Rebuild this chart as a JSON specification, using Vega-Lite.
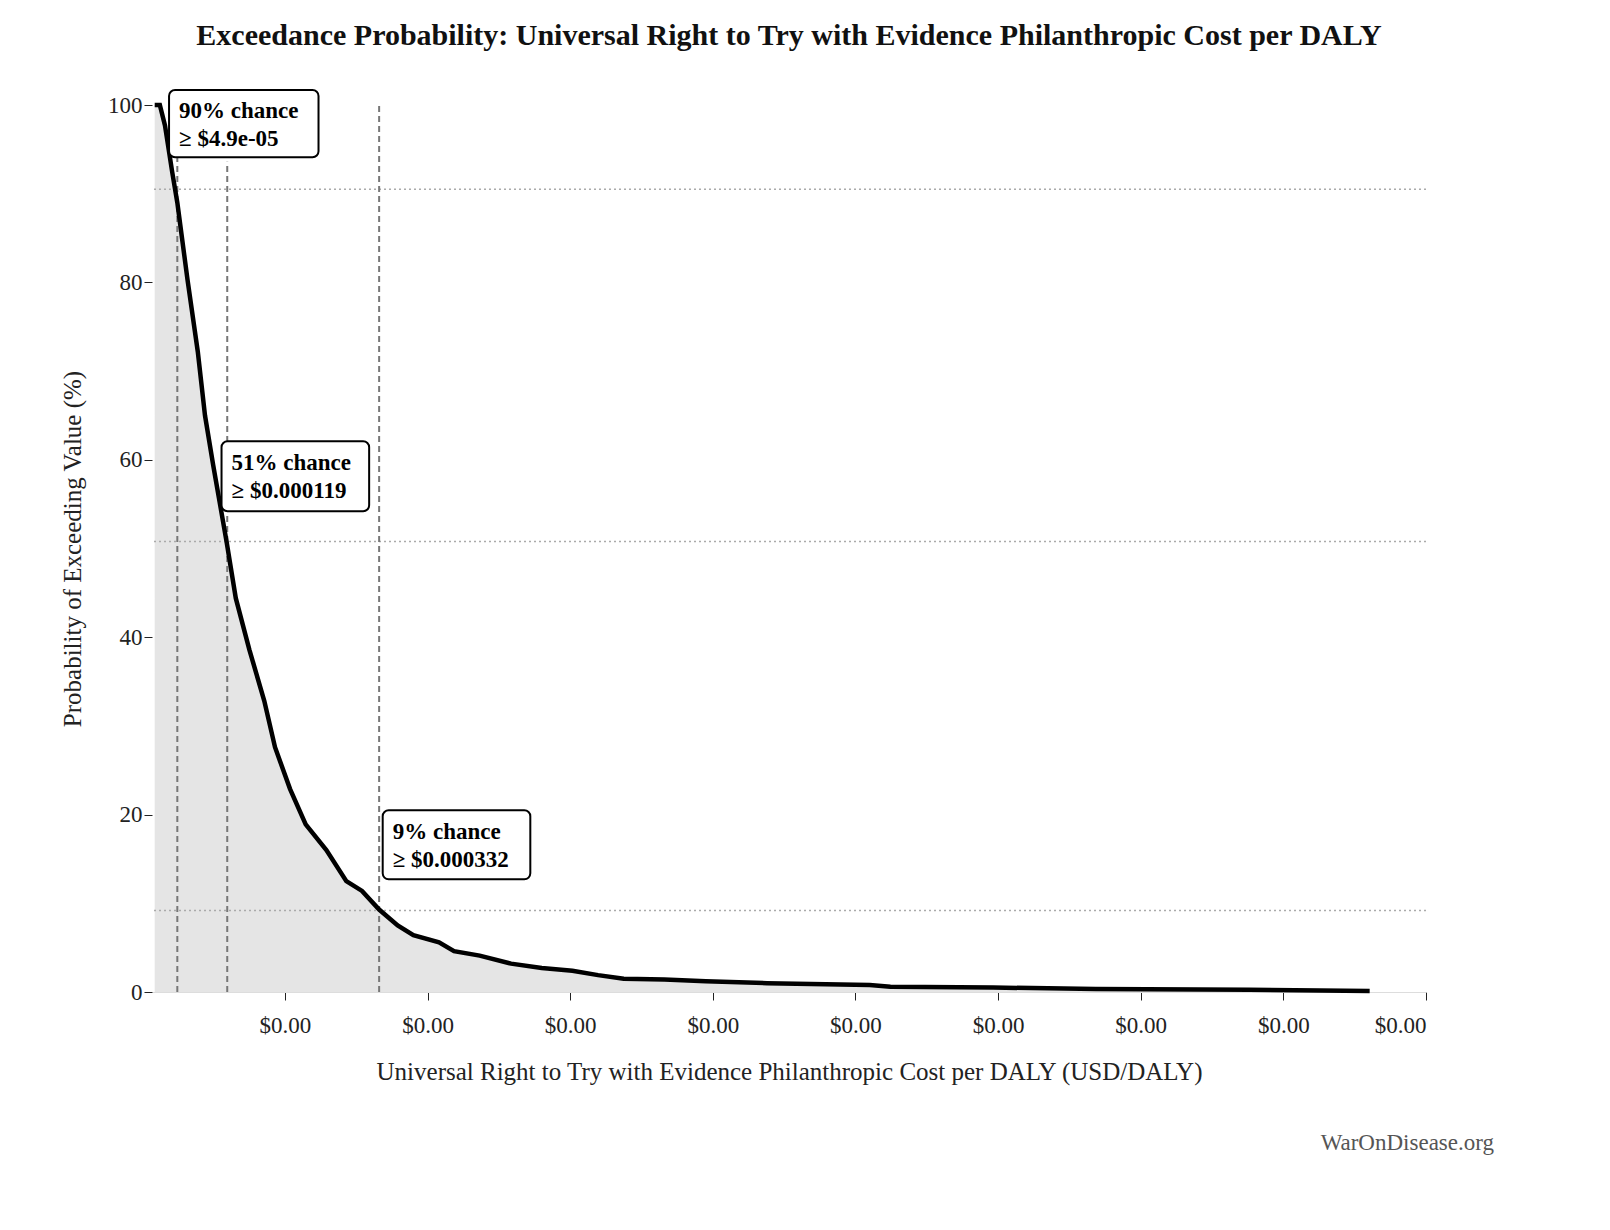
{
  "$schema": "https://vega.github.io/schema/vega-lite/v6.json",
  "width": 1274,
  "height": 887,
  "padding": {"left": 60, "top": 20, "right": 40, "bottom": 10},
  "background": "white",
  "config": {
    "font": "Liberation Serif",
    "view": {"stroke": null},
    "axis": {"grid": false, "labelFont": "Liberation Serif", "titleFont": "Liberation Serif", "labelFontSize": 23, "titleFontSize": 25, "labelColor": "#222", "titleColor": "#222", "titleFontWeight": "normal", "tickColor": "#222", "domainColor": "#ddd"}
  },
  "title": {"text": "Exceedance Probability: Universal Right to Try with Evidence Philanthropic Cost per DALY", "fontSize": 30, "font": "Liberation Serif", "fontWeight": "bold", "offset": 38, "anchor": "middle", "color": "#111"},
  "datasets": {
    "curve": [
      {"v": 0.0000173, "p": 100}, {"v": 0.0000245, "p": 100}, {"v": 0.0000317, "p": 97.7},
      {"v": 0.0000417, "p": 92.5}, {"v": 0.000049, "p": 89}, {"v": 0.0000633, "p": 80.3},
      {"v": 0.0000777, "p": 72.2}, {"v": 0.0000878, "p": 65}, {"v": 0.0000993, "p": 59.4},
      {"v": 0.000118, "p": 50.8}, {"v": 0.000131, "p": 44.4}, {"v": 0.00015, "p": 38.6},
      {"v": 0.000171, "p": 32.8}, {"v": 0.000186, "p": 27.6}, {"v": 0.000207, "p": 22.9},
      {"v": 0.000229, "p": 18.9}, {"v": 0.000258, "p": 16}, {"v": 0.000286, "p": 12.5},
      {"v": 0.000308, "p": 11.4}, {"v": 0.000332, "p": 9.3}, {"v": 0.000358, "p": 7.5},
      {"v": 0.00038, "p": 6.4}, {"v": 0.000416, "p": 5.6}, {"v": 0.000437, "p": 4.6},
      {"v": 0.000473, "p": 4.1}, {"v": 0.000517, "p": 3.2}, {"v": 0.00056, "p": 2.7},
      {"v": 0.000603, "p": 2.4}, {"v": 0.000639, "p": 1.9}, {"v": 0.000675, "p": 1.5},
      {"v": 0.000732, "p": 1.4}, {"v": 0.00079, "p": 1.2}, {"v": 0.000876, "p": 1.0},
      {"v": 0.00102, "p": 0.8}, {"v": 0.001049, "p": 0.6}, {"v": 0.001193, "p": 0.5},
      {"v": 0.001337, "p": 0.35}, {"v": 0.001552, "p": 0.25}, {"v": 0.001721, "p": 0.1}
    ],
    "hlines": [{"p": 90.5}, {"p": 50.8}, {"p": 9.2}],
    "vlines": [
      {"v": 0.000049, "bottom": 0, "top": 100},
      {"v": 0.000119, "bottom": 0, "top": 93.6},
      {"v": 0.000332, "bottom": 0, "top": 100}
    ],
    "boxes": [
      {"x": 0.0000374, "x2": 0.000247, "y": 101.7, "y2": 94.1, "l1": "90% chance", "l2": "≥ $4.9e-05", "t1": 99.3, "t2": 96.2},
      {"x": 0.000111, "x2": 0.000318, "y": 62.1, "y2": 54.2, "l1": "51% chance", "l2": "≥ $0.000119", "t1": 59.6, "t2": 56.5},
      {"x": 0.000337, "x2": 0.000544, "y": 20.5, "y2": 12.7, "l1": "9% chance", "l2": "≥ $0.000332", "t1": 18.0, "t2": 14.9}
    ],
    "credit": [{"t": "WarOnDisease.org", "v": 0.0018, "p": -17}]
  },
  "layer": [
    {
      "data": {"name": "curve"},
      "mark": {"type": "area", "color": "#e5e5e5"},
      "encoding": {
        "x": {"field": "v", "type": "quantitative", "scale": {"domain": [0.0000135, 0.0018], "nice": false, "zero": false},
          "axis": {"values": [0.0002, 0.0004, 0.0006, 0.0008, 0.001, 0.0012, 0.0014, 0.0016, 0.0018], "format": "$.2f", "title": "Universal Right to Try with Evidence Philanthropic Cost per DALY (USD/DALY)", "titlePadding": 22, "labelPadding": 14, "tickSize": 8}},
        "y": {"field": "p", "type": "quantitative", "scale": {"domain": [0, 100], "nice": false},
          "axis": {"values": [0, 20, 40, 60, 80, 100], "title": "Probability of Exceeding Value (%)", "titlePadding": 22, "domain": false, "tickSize": 8}}
      }
    },
    {
      "data": {"name": "hlines"},
      "mark": {"type": "rule", "color": "#aaa", "strokeDash": [2, 3], "strokeWidth": 1.5},
      "encoding": {"y": {"field": "p", "type": "quantitative"}}
    },
    {
      "data": {"name": "vlines"},
      "mark": {"type": "rule", "color": "#777", "strokeDash": [6, 4], "strokeWidth": 2},
      "encoding": {"x": {"field": "v", "type": "quantitative"}, "y": {"field": "bottom", "type": "quantitative"}, "y2": {"field": "top"}}
    },
    {
      "data": {"name": "curve"},
      "mark": {"type": "line", "color": "black", "strokeWidth": 4.5},
      "encoding": {"x": {"field": "v", "type": "quantitative"}, "y": {"field": "p", "type": "quantitative"}}
    },
    {
      "data": {"name": "boxes"},
      "mark": {"type": "rect", "fill": "white", "stroke": "black", "strokeWidth": 2, "cornerRadius": 6},
      "encoding": {"x": {"field": "x", "type": "quantitative"}, "x2": {"field": "x2"}, "y": {"field": "y", "type": "quantitative"}, "y2": {"field": "y2"}}
    },
    {
      "data": {"name": "boxes"},
      "mark": {"type": "text", "align": "left", "baseline": "middle", "dx": 10, "fontSize": 23, "fontWeight": "bold", "font": "Liberation Serif"},
      "encoding": {"x": {"field": "x", "type": "quantitative"}, "y": {"field": "t1", "type": "quantitative"}, "text": {"field": "l1", "type": "nominal"}}
    },
    {
      "data": {"name": "boxes"},
      "mark": {"type": "text", "align": "left", "baseline": "middle", "dx": 10, "fontSize": 23, "fontWeight": "bold", "font": "Liberation Serif"},
      "encoding": {"x": {"field": "x", "type": "quantitative"}, "y": {"field": "t2", "type": "quantitative"}, "text": {"field": "l2", "type": "nominal"}}
    },
    {
      "data": {"name": "credit"},
      "mark": {"type": "text", "align": "right", "dx": 68, "fontSize": 23, "color": "#555", "font": "Liberation Serif"},
      "encoding": {"x": {"field": "v", "type": "quantitative"}, "y": {"field": "p", "type": "quantitative"}, "text": {"field": "t", "type": "nominal"}}
    }
  ]
}
